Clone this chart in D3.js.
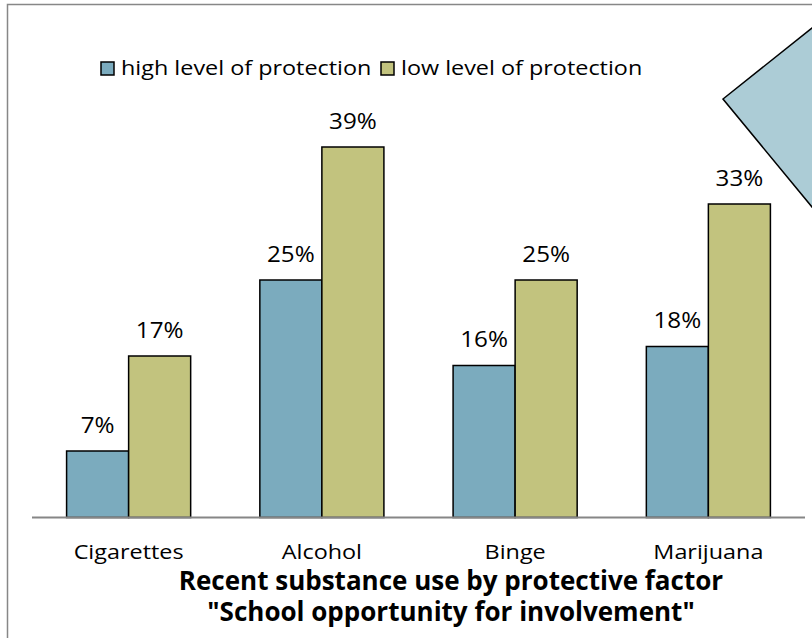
<!DOCTYPE html>
<html>
<head>
<meta charset="utf-8">
<script src="https://cdn.jsdelivr.net/npm/d3@7"></script>
<style>
  html, body { margin: 0; padding: 0; background: #fff; }
  svg { display: block; font-family: "Open Sans", sans-serif; }
</style>
</head>
<body>
<svg id="chart" width="812" height="638"></svg>
<script>
// Recent substance use (%) by level of the protective factor
const categories = ["Cigarettes", "Alcohol", "Binge", "Marijuana"];
const seriesNames = ["high level of protection", "low level of protection"];
const highProtection = [7, 25, 16, 18];
const lowProtection = [17, 39, 25, 33];
const titleLines = ["Recent substance use by protective factor", "\"School opportunity for involvement\""];

const colors = ["#7babbe", "#c2c37e"];
const FONT = "'Open Sans', sans-serif";
const WIDE = 1.17;      // horizontal stretch for the regular-weight labels
const svg = d3.select("#chart");
const W = 812, H = 638;

svg.append("rect").attr("width", W).attr("height", H).attr("fill", "#fff");

// chart area frame
svg.append("rect")
  .attr("x", 7.5).attr("y", 4.5).attr("width", 900).attr("height", 800)
  .attr("fill", "none").attr("stroke", "#878787").attr("stroke-width", 1.5);

// callout shape peeking in from the right
svg.append("polygon")
  .attr("points", "723,99 830,13.6 830,228.8")
  .attr("fill", "#acccd6").attr("stroke", "#000").attr("stroke-width", 1.5);

const plot = { left: 32, right: 805, top: 90, bottom: 517.5 };

const x0 = d3.scaleBand().domain(categories)
  .range([plot.left, plot.right])
  .paddingInner(0.358).paddingOuter(0.179);
const x1 = d3.scaleBand().domain(seriesNames).range([0, x0.bandwidth()]);
const y = d3.scaleLinear().domain([0, 45]).range([plot.bottom, plot.top]);

const rows = categories.map((c, i) => ({
  cat: c,
  vals: [
    { s: seriesNames[0], v: highProtection[i], k: 0 },
    { s: seriesNames[1], v: lowProtection[i], k: 1 }
  ]
}));

const groups = svg.append("g").selectAll("g").data(rows).join("g")
  .attr("transform", d => `translate(${x0(d.cat)},0)`);

groups.selectAll("rect").data(d => d.vals).join("rect")
  .attr("x", d => x1(d.s))
  .attr("y", d => y(d.v))
  .attr("width", x1.bandwidth())
  .attr("height", d => y(0) - y(d.v))
  .attr("fill", d => colors[d.k])
  .attr("stroke", "#000").attr("stroke-width", 1.5);

// value labels above each bar
groups.selectAll("text").data(d => d.vals).join("text")
  .attr("transform", d => `translate(${x1(d.s) + x1.bandwidth() / 2},${y(d.v) - 18.5}) scale(1.1,1)`)
  .attr("text-anchor", "middle")
  .attr("font-size", 22)
  .attr("fill", "#000")
  .text(d => d.v + "%");

// category axis
const xAxis = svg.append("g").attr("transform", `translate(0,${plot.bottom})`)
  .call(d3.axisBottom(x0).tickSize(0).tickPadding(0));
xAxis.select(".domain").attr("stroke", "#868686").attr("stroke-width", 2)
  .attr("d", `M${plot.left},0H${plot.right}`);
xAxis.selectAll("text")
  .attr("y", 0).attr("dy", null)
  .attr("transform", `translate(0,41) scale(${WIDE},1)`)
  .attr("font-size", 20).attr("font-family", FONT)
  .attr("fill", "#000");

// legend
const legend = svg.append("g").attr("transform", "translate(101,62)");
const legendX = [0, 280];
seriesNames.forEach((s, i) => {
  const g = legend.append("g").attr("transform", `translate(${legendX[i]},0)`);
  g.append("rect").attr("width", 13).attr("height", 13)
    .attr("fill", colors[i]).attr("stroke", "#000").attr("stroke-width", 1.5);
  g.append("text").attr("transform", `translate(20,13) scale(${WIDE},1)`)
    .attr("font-size", 20).text(s);
});

// title
svg.append("g").selectAll("text").data(titleLines).join("text")
  .attr("x", 451).attr("y", (d, i) => 590 + i * 31)
  .attr("text-anchor", "middle")
  .attr("font-size", 26).attr("font-weight", "bold")
  .text(d => d);
</script>
</body>
</html>
